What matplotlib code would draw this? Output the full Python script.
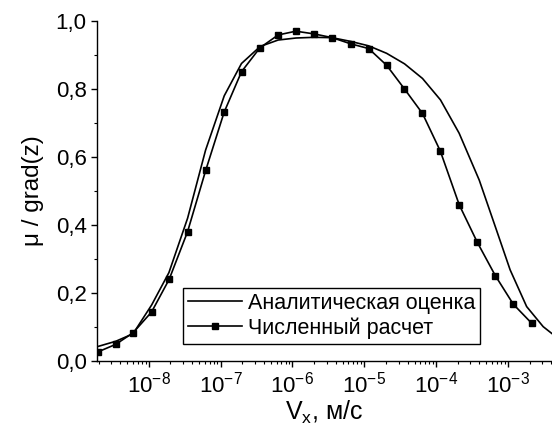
import numpy as np
import matplotlib
matplotlib.use("Agg")
import matplotlib.pyplot as plt
from matplotlib.ticker import (LogLocator, FixedLocator, LogFormatterSciNotation,
                               MultipleLocator, FuncFormatter, NullFormatter)

plt.rcParams['font.family'] = ['Liberation Sans', 'DejaVu Sans']
plt.rcParams['mathtext.fontset'] = 'custom'
plt.rcParams['mathtext.rm'] = 'Liberation Sans'
plt.rcParams['mathtext.it'] = 'Liberation Sans:italic'

# analytic estimate: log10(Vx) and mu/grad(z)
analytic_logv = [-8.72, -8.46, -8.22, -7.96, -7.72, -7.46, -7.21, -6.95, -6.71, -6.45,
                 -6.20, -5.95, -5.70, -5.45, -5.19, -4.94, -4.69, -4.44, -4.19, -3.94,
                 -3.68, -3.40, -3.16, -2.97, -2.74, -2.51, -2.39]
analytic_mu = [0.042, 0.058, 0.080, 0.165, 0.260, 0.420, 0.620, 0.780, 0.875, 0.925,
               0.944, 0.950, 0.952, 0.951, 0.940, 0.927, 0.905, 0.874, 0.831, 0.768,
               0.670, 0.532, 0.385, 0.268, 0.160, 0.101, 0.081]

# numerical calculation
numeric_logv = [-8.706, -8.46, -8.219, -7.962, -7.717, -7.461, -7.206, -6.951, -6.709,
                -6.454, -6.199, -5.953, -5.698, -5.447, -5.191, -4.94, -4.69, -4.444,
                -4.19, -3.943, -3.678, -3.427, -3.176, -2.926, -2.67]
numeric_mu = [0.027, 0.049, 0.083, 0.144, 0.240, 0.380, 0.562, 0.732, 0.851, 0.921,
              0.959, 0.970, 0.962, 0.951, 0.933, 0.919, 0.870, 0.801, 0.728, 0.618,
              0.459, 0.349, 0.251, 0.167, 0.111]

x_major = [1e-8, 1e-7, 1e-6, 1e-5, 1e-4, 1e-3]

fig = plt.figure(figsize=(5.52, 4.4), dpi=100)
ax = fig.add_axes([97/552, 1 - 361/440, 1 - 97/552, 340/440])

ax.plot(10**np.array(analytic_logv), analytic_mu, color='black', lw=1.2,
        label='Аналитическая оценка', zorder=2)
ax.plot(10**np.array(numeric_logv), numeric_mu, color='black', lw=1.2,
        marker='s', markersize=5, label='Численный расчет', zorder=3)

ax.set_xscale('log')
ax.set_xlim(1.9e-9, 4.1e-3)
ax.set_ylim(0, 1.0)

ax.xaxis.set_major_locator(FixedLocator(x_major))
ax.xaxis.set_minor_locator(LogLocator(base=10, subs=np.arange(2, 10), numticks=20))
ax.xaxis.set_major_formatter(LogFormatterSciNotation())
ax.xaxis.set_minor_formatter(NullFormatter())
ax.yaxis.set_major_locator(MultipleLocator(0.2))
ax.yaxis.set_minor_locator(MultipleLocator(0.1))
ax.yaxis.set_major_formatter(FuncFormatter(lambda v, p: f"{v:.1f}".replace('.', ',')))

for side in ('top', 'right'):
    ax.spines[side].set_visible(False)
for side in ('left', 'bottom'):
    ax.spines[side].set_linewidth(1.0)
ax.tick_params(which='major', direction='out', length=4.5, width=1.0, labelsize=16, pad=3)
ax.tick_params(which='minor', direction='out', length=2.5, width=0.8)

ax.set_xlabel('V$_\\mathrm{x}$, м/с', fontsize=18, labelpad=1)
ax.set_ylabel('μ / grad(z)', fontsize=17.5, labelpad=8)

leg = ax.legend(loc='lower left', bbox_to_anchor=(0.189, 0.05), fontsize=15.5,
                frameon=True, fancybox=False, edgecolor='black', framealpha=1,
                handlelength=2.5, borderpad=0.25, labelspacing=0.15, handletextpad=0.25,
                borderaxespad=0)
leg.get_frame().set_linewidth(1.0)

fig.savefig('out.png', dpi=100)
